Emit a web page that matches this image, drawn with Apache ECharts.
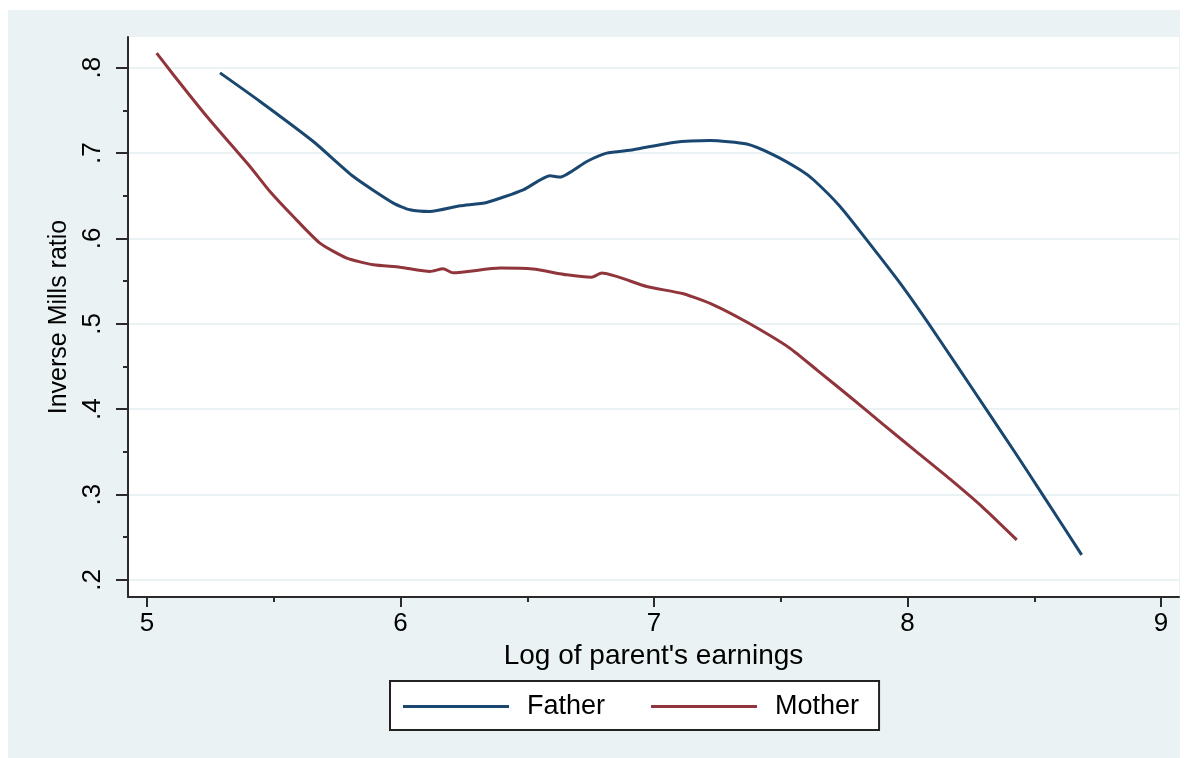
<!DOCTYPE html>
<html>
<head>
<meta charset="utf-8">
<title>Inverse Mills ratio</title>
<style>
  html, body { margin: 0; padding: 0; background: #fff; }
  #bg { position: absolute; left: 8px; top: 10px; width: 1172px; height: 748px; background: #eaf2f3; }
  #container { position: absolute; left: 0; top: 0; width: 1200px; height: 758px; }
</style>
</head>
<body>
<div id="bg"></div>
<div id="container"></div>
<script src="https://cdn.jsdelivr.net/npm/echarts@6/dist/echarts.min.js"></script>
<script>
// values
var fatherX = [5.288, 5.446, 5.656, 5.814, 5.972, 6.037, 6.116, 6.235, 6.340, 6.484, 6.590, 6.629, 6.735, 6.813, 6.918, 7.076, 7.221, 7.366, 7.471, 7.576, 7.629, 7.734, 7.839, 7.970, 8.076, 8.195, 8.312, 8.425, 8.536, 8.687];
var fatherY = [0.794, 0.7605, 0.7136, 0.6726, 0.6414, 0.6336, 0.6316, 0.6383, 0.6422, 0.6570, 0.6734, 0.6719, 0.6902, 0.7000, 0.7039, 0.7125, 0.7148, 0.7106, 0.6980, 0.6805, 0.6688, 0.6375, 0.5984, 0.5480, 0.5035, 0.4510, 0.3992, 0.3490, 0.2985, 0.2293];
var motherX = [5.038, 5.104, 5.236, 5.406, 5.485, 5.577, 5.682, 5.788, 5.893, 5.998, 6.116, 6.168, 6.207, 6.393, 6.523, 6.656, 6.754, 6.794, 6.971, 7.116, 7.234, 7.371, 7.536, 7.642, 7.775, 7.905, 8.036, 8.168, 8.297, 8.431];
var motherY = [0.8172, 0.7918, 0.7429, 0.6843, 0.6550, 0.6257, 0.5946, 0.5770, 0.5691, 0.5664, 0.5613, 0.5645, 0.5598, 0.5653, 0.5641, 0.5574, 0.5547, 0.5594, 0.5437, 0.5352, 0.5223, 0.5012, 0.4715, 0.4461, 0.4140, 0.3820, 0.3500, 0.3180, 0.2850, 0.2469];

var xMajor = [5, 6, 7, 8, 9];
var xMinor = [5.5, 6.5, 7.5, 8.5];
var yMajor = [0.2, 0.3, 0.4, 0.5, 0.6, 0.7, 0.8];
var yMinor = [0.25, 0.35, 0.45, 0.55, 0.65, 0.75];

function pairs(xs, ys) {
  var out = [];
  for (var i = 0; i < xs.length; i++) out.push([xs[i], ys[i]]);
  return out;
}

var font = '"Liberation Sans", Arial, Helvetica, sans-serif';
var axisCol = '#2a2a2a';
var xMin = 4.925, xMax = 9.071, yMin = 0.18, yMax = 0.836;

var myChart = echarts.init(document.getElementById('container'));
var option = {
  animation: false,
  textStyle: { fontFamily: font, color: '#000' },
  grid: {
    left: 128, top: 37, width: 1051, height: 560,
    show: true, backgroundColor: '#fff', borderWidth: 0
  },
  legend: {
    left: 390, top: 681,
    orient: 'horizontal',
    padding: [12, 20, 10, 13],
    itemGap: 46,
    itemWidth: 106,
    itemHeight: 3,
    backgroundColor: '#fff',
    borderColor: '#222',
    borderWidth: 2,
    borderRadius: 0,
    textStyle: { fontFamily: font, fontSize: 27, color: '#000', padding: [0, 0, 0, 13] },
    data: [{ name: 'Father', icon: 'rect' }, { name: 'Mother', icon: 'rect' }]
  },
  xAxis: [{
    type: 'value', min: xMin, max: xMax,
    position: 'bottom',
    name: "Log of parent's earnings",
    nameLocation: 'middle', nameGap: 44,
    nameTextStyle: { fontFamily: font, fontSize: 28, color: '#000' },
    axisLine: { show: true, lineStyle: { color: axisCol, width: 2 } },
    axisTick: { show: true, customValues: xMajor, length: 10, lineStyle: { color: axisCol, width: 2 } },
    axisLabel: { customValues: xMajor, fontSize: 26, color: '#000', margin: 14, fontFamily: font },
    splitLine: { show: false }
  }, {
    type: 'value', min: xMin, max: xMax,
    position: 'bottom', gridIndex: 0,
    axisLine: { show: false },
    axisTick: { show: true, customValues: xMinor, length: 5, lineStyle: { color: axisCol, width: 2 } },
    axisLabel: { show: false },
    splitLine: { show: false }
  }],
  yAxis: [{
    type: 'value', min: yMin, max: yMax,
    position: 'left',
    name: 'Inverse Mills ratio',
    nameLocation: 'middle', nameGap: 56, nameRotate: 90,
    nameTextStyle: { fontFamily: font, fontSize: 25, color: '#000' },
    axisLine: { show: true, lineStyle: { color: axisCol, width: 2 } },
    axisTick: { show: true, customValues: yMajor, length: 12, lineStyle: { color: axisCol, width: 2 } },
    axisLabel: {
      customValues: yMajor, rotate: 90, fontSize: 26, color: '#000', margin: 22, fontFamily: font,
      formatter: function (v) { return v.toFixed(1).replace(/^0/, ''); }
    },
    splitLine: { show: true, lineStyle: { color: '#eaf2f3', width: 2 } }
  }, {
    type: 'value', min: yMin, max: yMax,
    position: 'left', gridIndex: 0,
    axisLine: { show: false },
    axisTick: { show: true, customValues: yMinor, length: 5, lineStyle: { color: axisCol, width: 2 } },
    axisLabel: { show: false },
    splitLine: { show: false }
  }],
  series: [{
    name: 'Father', type: 'line',
    xAxisIndex: 0, yAxisIndex: 0,
    data: pairs(fatherX, fatherY),
    showSymbol: false, smooth: 0.2,
    color: '#1a476f',
    lineStyle: { width: 3, color: '#1a476f' }
  }, {
    name: 'Mother', type: 'line',
    xAxisIndex: 0, yAxisIndex: 0,
    data: pairs(motherX, motherY),
    showSymbol: false, smooth: 0.2,
    color: '#90353b',
    lineStyle: { width: 3, color: '#90353b' }
  }]
};
myChart.setOption(option);
</script>
</body>
</html>
